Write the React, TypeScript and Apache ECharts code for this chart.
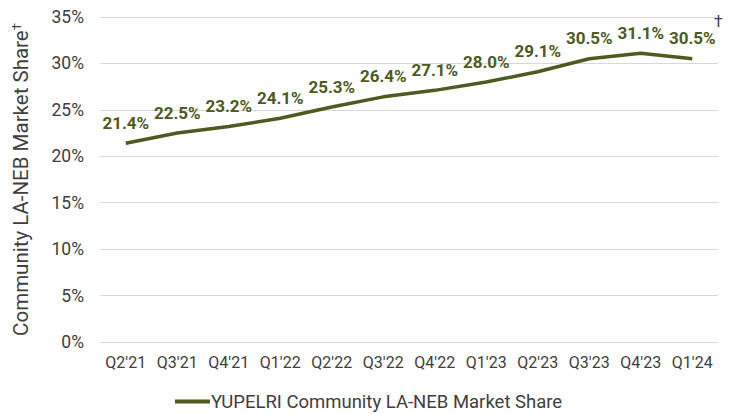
import React, { useEffect, useRef } from "react";
import * as echarts from "echarts";

const categories = ["Q2'21", "Q3'21", "Q4'21", "Q1'22", "Q2'22", "Q3'22", "Q4'22", "Q1'23", "Q2'23", "Q3'23", "Q4'23", "Q1'24"];
const shareValues = [21.4, 22.5, 23.2, 24.1, 25.3, 26.4, 27.1, 28.0, 29.1, 30.5, 31.1, 30.5];
const seriesName = "YUPELRI Community LA-NEB Market Share";

export default function App() {
  const ref = useRef<HTMLDivElement>(null);
  useEffect(() => {
    if (!ref.current) return;
    const chart = echarts.init(ref.current, null, { renderer: "svg" });
    const green = "#4e5b1f";
    chart.setOption({
      animation: false,
      textStyle: { fontFamily: "Roboto" },
      grid: { left: 100, right: 18, top: 17, bottom: 72 },
      legend: {
        left: 170,
        top: 387,
        itemWidth: 35,
        itemHeight: 4,
        itemGap: 10,
        icon: "rect",
        textStyle: { fontSize: 18.5, color: "#404040", fontFamily: "Roboto", padding: [0, 0, 0, -4] },
        data: [seriesName],
      },
      xAxis: {
        type: "category",
        data: categories,
        boundaryGap: true,
        axisLine: { show: false },
        axisTick: { show: false },
        axisLabel: { fontSize: 16, color: "#404040", margin: 12, interval: 0 },
      },
      yAxis: {
        type: "value",
        min: 0,
        max: 35,
        interval: 5,
        name: "Community LA-NEB Market Share{s|†}",
        nameLocation: "middle",
        nameGap: 68,
        nameTextStyle: {
          fontSize: 20.5,
          color: "#404040",
          rich: { s: { fontSize: 13, verticalAlign: "top", padding: [0, 0, 9, 0], color: "#404040" } },
        },
        axisLabel: { fontSize: 17.5, color: "#404040", margin: 16, formatter: (v: number) => v + "%" },
        splitLine: { lineStyle: { color: "#d9d9d9", width: 1 } },
      },
      graphic: [
        { type: "text", left: 714, top: 13, style: { text: "†", fontSize: 16, fill: "#404040", fontFamily: "Roboto" } },
      ],
      series: [
        {
          name: seriesName,
          type: "line",
          data: shareValues,
          symbol: "circle",
          symbolSize: 0,
          showSymbol: true,
          lineStyle: { color: green, width: 3.5 },
          itemStyle: { color: green },
          label: {
            show: true,
            position: "top",
            distance: 12,
            fontSize: 17,
            fontWeight: "bold",
            color: green,
            formatter: (p: any) => p.value.toFixed(1) + "%",
          },
        },
      ],
    });
    return () => chart.dispose();
  }, []);
  return <div ref={ref} style={{ width: 736, height: 414, position: "absolute", left: 0, top: 0 }} />;
}
